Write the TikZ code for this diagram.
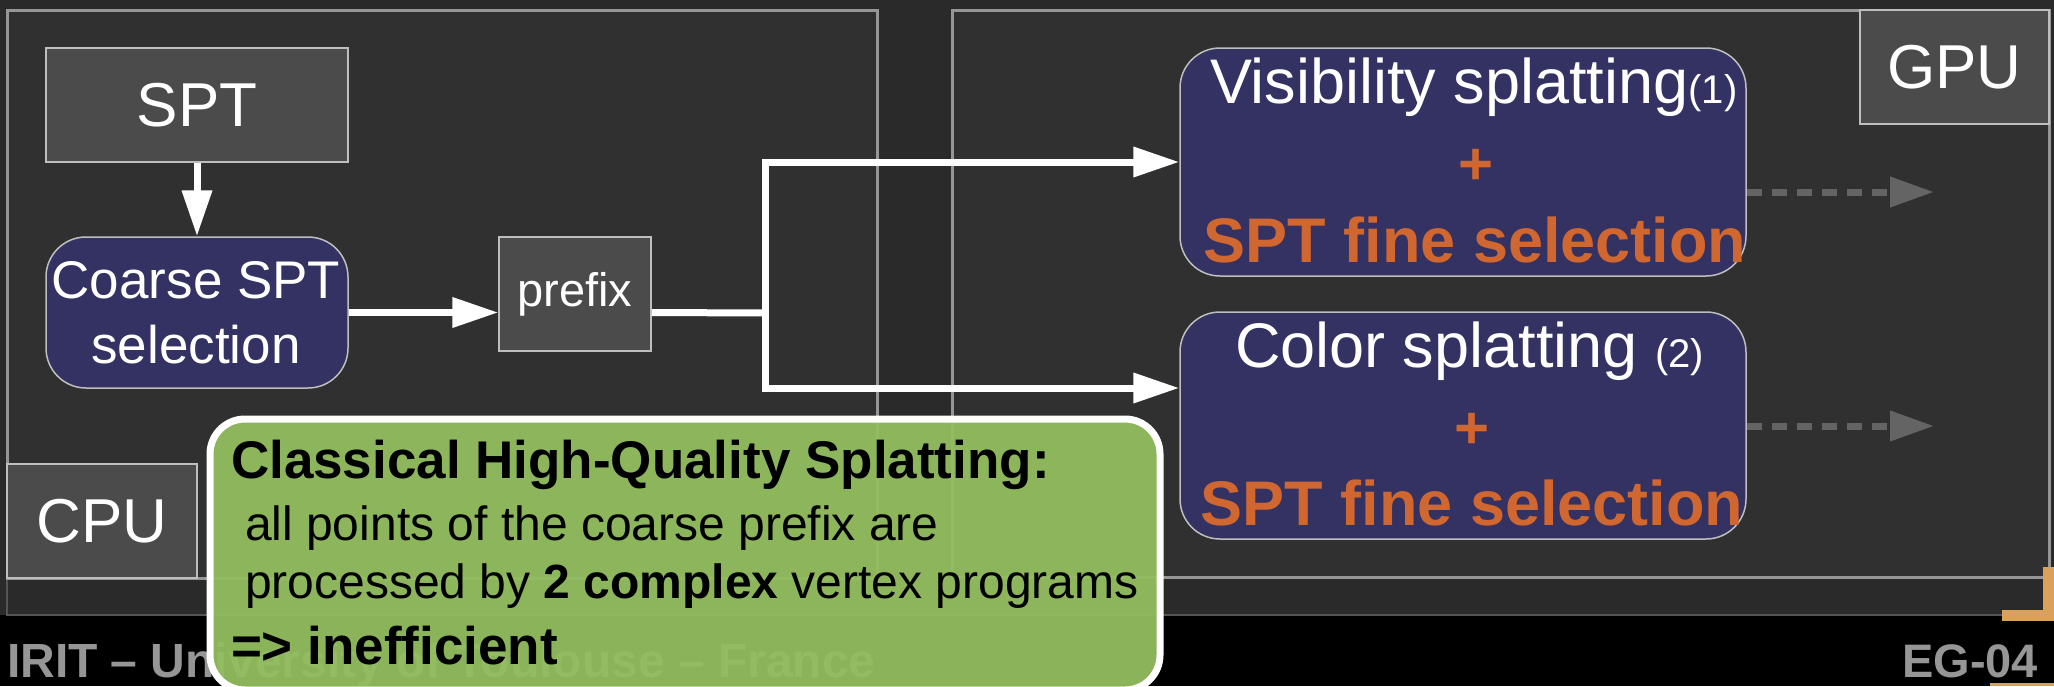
\documentclass[tikz,border=0pt]{standalone}
\usepackage{fontspec}
\setmainfont{Liberation Sans}
\usetikzlibrary{arrows.meta}
\definecolor{bgdark}{RGB}{42,42,42}
\definecolor{panelfill}{RGB}{48,48,48}
\definecolor{panelline}{RGB}{150,150,150}
\definecolor{edgeline}{RGB}{85,85,85}
\definecolor{labelgray}{RGB}{75,75,75}
\definecolor{labelline}{RGB}{190,190,190}
\definecolor{navy}{RGB}{51,50,99}
\definecolor{accent}{RGB}{208,102,48}
\definecolor{dashgray}{RGB}{100,100,100}
\definecolor{notegreen}{RGB}{147,189,95}
\definecolor{footgray}{RGB}{150,150,150}
\definecolor{cornerorange}{RGB}{218,160,92}
\newcommand{\fsz}[1]{\fontsize{#1}{#1}\selectfont}
\begin{document}
\begin{tikzpicture}[x=1pt,y=-1pt,
  panel/.style={draw=panelline,fill=panelfill,line width=3pt},
  tagbox/.style={draw=labelline,fill=labelgray,line width=1.5pt,inner sep=0pt,text=white},
  procbox/.style={draw=labelline,fill=navy,line width=1.5pt,rounded corners=40pt,inner sep=0pt},
  txt/.style={inner sep=0pt,outer sep=0pt},
  otxt/.style={txt,text=accent,font=\bfseries\fsz{63},anchor=base},
  plustxt/.style={txt,text=accent,font=\bfseries\fsz{60},anchor=center},
  flow/.style={draw=white,line width=7pt},
  wtip/.style={-{Triangle[length=46pt,width=29pt]}},
  dashflow/.style={draw=dashgray,line width=7pt,dash pattern=on 15.5pt off 9.5pt,
     -{Triangle[length=44pt,width=29pt]}},
  notebox/.style={draw=white,line width=7pt,fill=notegreen,fill opacity=0.95,rounded corners=35pt,inner sep=0pt},
  notetxt/.style={txt,anchor=base west,text=black}
]
\useasboundingbox (0,0) rectangle (2054,686);
% background
\fill[black] (0,0) rectangle (2054,686);
\fill[bgdark] (0,0) rectangle (2054,615);
\draw[edgeline,line width=1.5pt] (7,578) -- (7,615) -- (2043,615);
% panels
\draw[panel] (7,10) rectangle (877,578);
\draw[panel] (952,10) rectangle (2049,577);
% footer
\node[txt,anchor=base west,text=footgray,font=\bfseries\fsz{48}] (foot) at (7,677) {IRIT – University of Toulouse – France};
\node[txt,anchor=base east,text=footgray,font=\bfseries\fsz{47}] (eg) at (2038,677) {EG-04};
% labels
\node[tagbox,minimum width=190pt,minimum height=114pt,font=\fsz{62}] (cpu) at (102,521) {CPU};
\node[tagbox,minimum width=189pt,minimum height=114pt,font=\fsz{62}] (gpu) at (1954.5,67) {GPU};
% CPU side
\node[tagbox,minimum width=302pt,minimum height=114pt,font=\fsz{62}] (spt) at (197,105) {SPT};
\node[procbox,minimum width=302pt,minimum height=151pt] (coarse) at (197,312.5) {};
\node[txt,anchor=base,text=white,font=\fsz{53}] (coarseA) at (196,298) {Coarse SPT};
\node[txt,anchor=base,text=white,font=\fsz{53}] (coarseB) at (196,363) {selection};
\node[tagbox,minimum width=152pt,minimum height=114pt,font=\fsz{47}] (prefix) at (575,294) {prefix};
% GPU side
\node[procbox,minimum width=566pt,minimum height=228pt] (vis) at (1463,162) {};
\node[txt,anchor=base west,text=white,font=\fsz{63}] (visA) at (1210,103) {Visibility splatting{\fsz{40}(1)}};
\node[plustxt] (visB) at (1476,167) {+};
\node[otxt] (visC) at (1475,262) {SPT fine selection};
\node[procbox,minimum width=566pt,minimum height=227pt] (col) at (1463,425.5) {};
\node[txt,anchor=base west,text=white,font=\fsz{63}] (colA) at (1235,367) {Color splatting {\fsz{40}(2)}};
\node[plustxt] (colB) at (1472,431) {+};
\node[otxt] (colC) at (1472,525) {SPT fine selection};
% connectors
\coordinate (jx) at (765,313);
\coordinate (cin) at ([yshift=37.5pt]col.west);
\coordinate (d1) at (1934,192);
\coordinate (d2) at (1934,426);
\draw[flow,wtip] (spt.south) -- (coarse.north);
\draw[flow,wtip] (coarse.east) -- (coarse.east -| prefix.west);
\draw[flow] (coarse.east -| prefix.east) -- (jx);
\draw[flow,{Triangle[length=46pt,width=29pt]}-{Triangle[length=46pt,width=29pt]}] (cin) -- (jx |- cin) -- (jx |- vis.west) -- (vis.west);
\draw[dashflow] (vis.east |- d1) -- (d1);
\draw[dashflow] (col.east |- d2) -- (d2);
% note
\node[notebox,minimum width=950pt,minimum height=271pt] (note) at (685,554.5) {};
\node[notetxt,font=\bfseries\fsz{53}] (n1) at (231,478) {Classical High-Quality Splatting:};
\node[notetxt,font=\fsz{48}] (n2) at (245,540) {all points of the coarse prefix are};
\node[notetxt,font=\fsz{48}] (n3) at (245,598) {processed by \textbf{2 complex} vertex programs};
\node[notetxt,font=\bfseries\fsz{53}] (n4) at (231,664) {=> inefficient};
% orange corner marks
\fill[cornerorange] (2043,567) rectangle (2054,621);
\fill[cornerorange] (2002,610) rectangle (2054,621);
\fill[cornerorange] (1990,683) rectangle (2054,686);
\end{tikzpicture}
\end{document}
